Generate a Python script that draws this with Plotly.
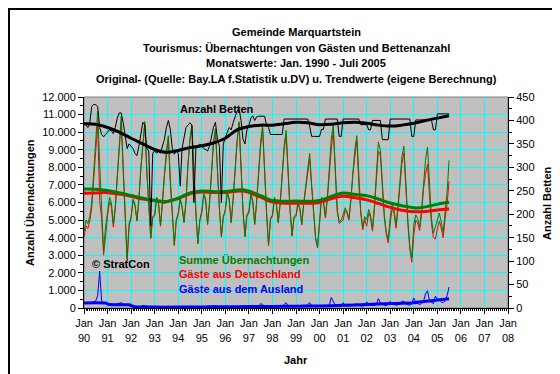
import pandas as pd
import plotly.graph_objects as go

# ---------------- data (monthly, Jan 1990 - Jul 2005) ----------------
months = pd.date_range("1990-01-01", "2005-07-01", freq="MS")

summe = [
    4300, 5000, 4800, 5200, 6000, 7800, 9800, 11200, 8200, 5500, 3250, 4600,   # 1990
    5500, 6300, 6000, 4800, 5800, 7600, 9300, 10900, 8000, 5800, 2800, 4800,   # 1991
    5200, 6200, 5900, 5000, 6200, 8000, 9500, 10600, 7800, 5600, 4000, 5200,   # 1992
    5300, 6300, 6000, 4700, 5900, 7600, 8900, 9800, 7200, 5400, 3600, 5000,    # 1993
    5400, 6200, 5800, 4900, 6100, 8200, 9600, 10400, 7600, 5500, 3700, 5000,   # 1994
    5500, 6500, 6200, 4800, 6000, 8000, 9400, 10200, 7700, 5700, 4100, 5200,   # 1995
    5600, 6600, 6200, 4900, 6200, 8200, 9500, 10600, 7600, 5600, 4100, 5300,   # 1996
    5500, 6500, 6100, 4800, 6100, 8000, 9400, 10400, 7500, 5500, 3600, 5100,   # 1997
    5300, 6300, 6000, 4900, 6000, 7900, 9200, 10100, 7300, 5600, 4150, 5200,   # 1998
    5300, 6000, 5700, 4800, 6000, 7000, 8000, 8800, 7000, 5400, 4000, 3500,    # 1999
    5200, 6300, 6100, 5200, 6300, 8000, 9600, 10450, 7600, 5600, 4900, 5000,   # 2000
    5300, 5700, 5500, 5100, 6200, 7800, 9000, 9800, 7200, 5500, 4550, 5200,    # 2001
    5000, 5600, 5300, 4500, 5800, 7500, 9450, 9000, 6800, 5300, 4300, 3900,    # 2002
    5200, 5900, 5600, 4700, 5800, 7400, 8600, 9200, 6900, 5000, 3500, 2850,    # 2003
    4700, 5300, 5100, 4600, 5600, 7200, 8400, 9150, 6800, 5100, 4250, 4600,    # 2004
    5000, 5400, 4900, 4300, 5500, 6600, 8400,                                  # 2005
]

deutschland = [
    4000, 4680, 4520, 4950, 5700, 7450, 9400, 10500, 6100, 5100, 3000, 4300,   # 1990
    5250, 6050, 5780, 4600, 5600, 7380, 9050, 10600, 7780, 5620, 2650, 4650,   # 1991
    5120, 6130, 5840, 4940, 6140, 7930, 9350, 10480, 7730, 5540, 3950, 5140,   # 1992
    5240, 6240, 5950, 4650, 5840, 7530, 8810, 9700, 7130, 5340, 3550, 4940,    # 1993
    5340, 6140, 5750, 4850, 6040, 8130, 9510, 10300, 7530, 5440, 3650, 4940,   # 1994
    5430, 6430, 6140, 4740, 5930, 7920, 9300, 10080, 7620, 5630, 4040, 5130,   # 1995
    5530, 6530, 6140, 4840, 6130, 8120, 9400, 10490, 7520, 5530, 4040, 5230,   # 1996
    5420, 6420, 6030, 4740, 6020, 7900, 9150, 10200, 7400, 5420, 3540, 5020,   # 1997
    5220, 6220, 5930, 4830, 5920, 7800, 9000, 9800, 7180, 5520, 4080, 5120,    # 1998
    5210, 5910, 5620, 4720, 5910, 6890, 7800, 8500, 6880, 5310, 3920, 3410,    # 1999
    5100, 6200, 6010, 5110, 6200, 7850, 9000, 10100, 7450, 5500, 4810, 4900,   # 2000
    5000, 5550, 5380, 4990, 6080, 7650, 8800, 9550, 7050, 5380, 4450, 5050,    # 2001
    4650, 5400, 5150, 4370, 5650, 7300, 8920, 8700, 6600, 5150, 4170, 3700,    # 2002
    4820, 5650, 5400, 4540, 5620, 7150, 8220, 8820, 6650, 4820, 3340, 2600,    # 2003
    4130, 5000, 4850, 4400, 5350, 6800, 7600, 8170, 6400, 4800, 4000, 3920,    # 2004
    4500, 4950, 4550, 4000, 5100, 5900, 7210,                                  # 2005
]

ausland = [
    300, 320, 280, 250, 300, 350, 400, 700, 2100, 400, 250, 300,   # 1990
    250, 250, 220, 200, 200, 220, 250, 300, 220, 180, 150, 150,    # 1991
    80, 70, 60, 60, 60, 70, 150, 120, 70, 60, 50, 60,              # 1992
    60, 60, 50, 50, 60, 70, 90, 100, 70, 60, 50, 60,               # 1993
    60, 60, 50, 50, 60, 70, 90, 100, 70, 60, 50, 60,               # 1994
    70, 70, 60, 60, 70, 80, 100, 120, 80, 70, 60, 70,              # 1995
    70, 70, 60, 60, 70, 80, 100, 110, 80, 70, 60, 70,              # 1996
    80, 80, 70, 60, 80, 100, 250, 200, 100, 80, 60, 80,            # 1997
    80, 80, 70, 70, 80, 100, 200, 300, 120, 80, 70, 80,            # 1998
    90, 90, 80, 80, 90, 110, 200, 300, 120, 90, 80, 90,            # 1999
    100, 100, 90, 90, 100, 150, 600, 350, 150, 100, 90, 100,       # 2000
    300, 150, 120, 110, 120, 150, 200, 250, 150, 120, 100, 150,    # 2001
    350, 200, 150, 130, 150, 200, 530, 300, 200, 150, 130, 200,    # 2002
    380, 250, 200, 160, 180, 250, 380, 380, 250, 180, 160, 250,    # 2003
    570, 300, 250, 200, 250, 400, 800, 980, 400, 300, 250, 680,    # 2004
    500, 450, 350, 300, 400, 700, 1190,                            # 2005
]

betten = [
    395, 390, 385, 395, 430, 434, 434, 430, 385, 370, 365, 370,    # 1990
    375, 380, 378, 372, 385, 405, 416, 416, 395, 370, 340, 350,    # 1991
    345, 340, 330, 325, 345, 370, 396, 390, 340, 335, 175, 330,    # 1992
    335, 330, 335, 330, 345, 360, 385, 400, 380, 340, 328, 335,    # 1993
    330, 260, 340, 360, 385, 390, 395, 390, 225, 340, 345, 350,    # 1994
    345, 340, 338, 335, 345, 370, 385, 396, 360, 345, 225, 350,    # 1995
    365, 375, 385, 380, 395, 410, 420, 425, 400, 360, 350, 380,    # 1996
    390, 405, 410, 400, 408, 409, 409, 409, 409, 390, 385, 370,    # 1997
    370, 370, 370, 370, 370, 370, 403, 403, 403, 403, 403, 403,    # 1998
    403, 403, 403, 403, 403, 403, 403, 388, 366, 366, 366, 366,    # 1999
    366, 381, 381, 403, 403, 403, 403, 403, 403, 403, 366, 366,    # 2000
    403, 403, 403, 403, 403, 403, 403, 403, 403, 391, 391, 391,    # 2001
    391, 380, 380, 400, 400, 400, 400, 400, 359, 359, 359, 359,    # 2002
    403, 403, 403, 403, 403, 403, 403, 403, 403, 403, 403, 366,    # 2003
    366, 401, 401, 401, 401, 401, 401, 401, 401, 401, 380, 380,    # 2004
    414, 414, 414, 414, 414, 414, 414,                             # 2005
]

# trend values (eigene Berechnung), read at selected months
trend_summe_dates = ["1990-01", "1990-07", "1991-01", "1991-07", "1992-01", "1992-07", "1993-01",
                     "1993-06", "1994-01", "1994-07", "1995-01", "1995-07", "1996-01", "1996-10",
                     "1997-07", "1997-12", "1998-07", "1999-01", "1999-12", "2000-08", "2001-01",
                     "2001-08", "2002-01", "2002-07", "2003-01", "2003-07", "2004-03", "2004-09",
                     "2005-01", "2005-07"]
trend_summe = [6770, 6760, 6680, 6550, 6400, 6250, 6130, 6050, 6250, 6550, 6650, 6620, 6620, 6720,
               6390, 6140, 6070, 6080, 6100, 6390, 6540, 6450, 6390, 6200, 5970, 5820, 5690, 5800,
               5900, 6010]
trend_deutschland = [6520, 6540, 6560, 6480, 6350, 6200, 6100, 6020, 6220, 6500, 6600, 6570, 6570,
                     6650, 6300, 6050, 5960, 5960, 5980, 6250, 6350, 6250, 6150, 5950, 5720, 5560,
                     5470, 5520, 5580, 5630]

trend_ausland_dates = ["1990-01", "1990-12", "1991-02", "1991-12", "1992-03", "1993-01", "1994-01",
                       "1995-01", "1996-01", "1997-01", "1998-01", "1999-01", "2000-01", "2001-01",
                       "2002-01", "2003-01", "2004-01", "2004-07", "2005-01", "2005-07"]
trend_ausland = [290, 280, 200, 180, 70, 50, 50, 60, 70, 80, 90, 100, 120, 150, 200, 250, 300, 380,
                 450, 530]

trend_betten_dates = ["1990-01", "1990-07", "1991-01", "1991-07", "1992-01", "1992-07", "1993-01",
                      "1993-07", "1994-01", "1994-07", "1995-01", "1995-07", "1996-01", "1996-07",
                      "1997-01", "1997-07", "1998-01", "1998-07", "1999-01", "1999-07", "2000-01",
                      "2000-07", "2001-01", "2001-07", "2002-01", "2002-07", "2003-01", "2003-07",
                      "2004-01", "2004-07", "2005-01", "2005-07"]
trend_betten = [393, 392, 385, 375, 362, 350, 338, 332, 336, 342, 346, 352, 362, 380, 387, 390, 390,
                393, 396, 395, 391, 392, 395, 396, 394, 390, 388, 390, 394, 400, 405, 410]

year_ticks = list(range(1990, 2009))
year_labels = ["Jan<br>%02d" % (y % 100) for y in year_ticks]
left_ticks = list(range(0, 12001, 1000))
left_labels = ["{:,}".format(v).replace(",", ".") for v in left_ticks]
right_ticks = list(range(0, 451, 50))

title_lines = [
    "Gemeinde Marquartstein",
    "Tourismus: Übernachtungen von Gästen und Bettenanzahl",
    "Monatswerte: Jan. 1990 - Juli 2005",
    "Original- (Quelle: Bay.LA f.Statistik u.DV) u. Trendwerte (eigene Berechnung)",
]

# ---------------- figure ----------------
W, H = 560, 374
L, R, T, B = 76, 60, 89, 74
PW, PH = W - L - R, H - T - B


def px(x):
    return (x - L) / PW


def py(y):
    return (H - B - y) / PH


FONT = "Liberation Sans, Arial, sans-serif"
GREEN, RED, BLUE = "#008000", "#FF0000", "#0000FF"
TW = 3

fig = go.Figure()
fig.add_trace(go.Scatter(x=months, y=deutschland, mode="lines", line=dict(color=RED, width=1)))
fig.add_trace(go.Scatter(x=months, y=summe, mode="lines", line=dict(color=GREEN, width=1)))
fig.add_trace(go.Scatter(x=months, y=ausland, mode="lines", line=dict(color=BLUE, width=1)))
fig.add_trace(go.Scatter(x=pd.to_datetime(trend_summe_dates), y=trend_deutschland, mode="lines",
                         line=dict(color=RED, width=TW, shape="spline")))
fig.add_trace(go.Scatter(x=pd.to_datetime(trend_summe_dates), y=trend_summe, mode="lines",
                         line=dict(color=GREEN, width=TW, shape="spline")))
fig.add_trace(go.Scatter(x=pd.to_datetime(trend_ausland_dates), y=trend_ausland, mode="lines",
                         line=dict(color=BLUE, width=TW, shape="spline", smoothing=0.6)))
fig.add_trace(go.Scatter(x=months, y=betten, mode="lines", yaxis="y2",
                         line=dict(color="black", width=1)))
fig.add_trace(go.Scatter(x=pd.to_datetime(trend_betten_dates), y=trend_betten, mode="lines",
                         yaxis="y2", line=dict(color="black", width=TW, shape="spline")))

annotations = []
for i, t in enumerate(title_lines):
    annotations.append(dict(text="<b>%s</b>" % t, x=px(288), y=py([24, 40, 55, 71][i]),
                            xref="paper", yref="paper", showarrow=False, xanchor="center",
                            yanchor="middle", font=dict(size=11, color="black", family=FONT)))
annotations += [
    dict(text="<b>Anzahl Übernachtungen</b>", x=px(22), y=py(195), textangle=-90),
    dict(text="<b>Anzahl Betten</b>", x=px(539), y=py(195), textangle=-90),
    dict(text="<b>Jahr</b>", x=px(288), y=py(352)),
    dict(text="<b>Anzahl Betten</b>", x=px(170), y=py(101), xanchor="left"),
    dict(text="<b>© StratCon</b>", x=px(82), y=py(256), xanchor="left"),
    dict(text="<b>Summe Übernachtungen</b>", x=px(169), y=py(252), xanchor="left",
         font=dict(size=11, color=GREEN, family=FONT)),
    dict(text="<b>Gäste aus Deutschland</b>", x=px(169), y=py(266), xanchor="left",
         font=dict(size=11, color=RED, family=FONT)),
    dict(text="<b>Gäste aus dem Ausland</b>", x=px(169), y=py(281), xanchor="left",
         font=dict(size=11, color=BLUE, family=FONT)),
]
for a in annotations[4:]:
    a.setdefault("xref", "paper")
    a.setdefault("yref", "paper")
    a.setdefault("showarrow", False)
    a.setdefault("xanchor", "center")
    a.setdefault("yanchor", "middle")
    a.setdefault("font", dict(size=11, color="black", family=FONT))

shapes = [
    dict(type="rect", xref="paper", yref="paper", x0=0, x1=1, y0=0, y1=1,
         line=dict(color="#808080", width=1), layer="below"),
    dict(type="rect", xref="paper", yref="paper", x0=px(1), x1=px(555), y0=py(371.5), y1=py(1),
         line=dict(color="black", width=2)),
]

fig.update_layout(
    width=W, height=H,
    margin=dict(l=L, r=R, t=T, b=B, pad=0),
    paper_bgcolor="white", plot_bgcolor="#C0C0C0",
    showlegend=False,
    font=dict(family=FONT, size=11, color="black"),
    annotations=annotations, shapes=shapes,
    xaxis=dict(type="date", range=["1990-01-01", "2008-01-01"],
               tickvals=[pd.Timestamp(y, 1, 1) for y in year_ticks], ticktext=year_labels,
               showgrid=True, gridcolor="#00FFFF", gridwidth=1,
               showline=True, linecolor="black", linewidth=1,
               ticks="outside", ticklen=5, tickcolor="black",
               minor=dict(ticks="outside", dtick="M1", ticklen=2, tickcolor="black", showgrid=False),
               tickangle=0, zeroline=False, fixedrange=True),
    yaxis=dict(range=[0, 12000], tickvals=left_ticks, ticktext=left_labels,
               showgrid=True, gridcolor="#00FFFF", gridwidth=1,
               showline=True, linecolor="black", linewidth=1,
               ticks="outside", ticklen=5, tickcolor="black",
               minor=dict(ticks="outside", dtick=500, ticklen=3, tickcolor="black", showgrid=False),
               zeroline=False),
    yaxis2=dict(range=[0, 450], tickvals=right_ticks, overlaying="y", side="right",
                showgrid=False, showline=True, linecolor="black", linewidth=1,
                ticks="outside", ticklen=5, tickcolor="black",
                minor=dict(ticks="outside", dtick=25, ticklen=3, tickcolor="black"),
                zeroline=False),
)

fig.write_html("out.html")
